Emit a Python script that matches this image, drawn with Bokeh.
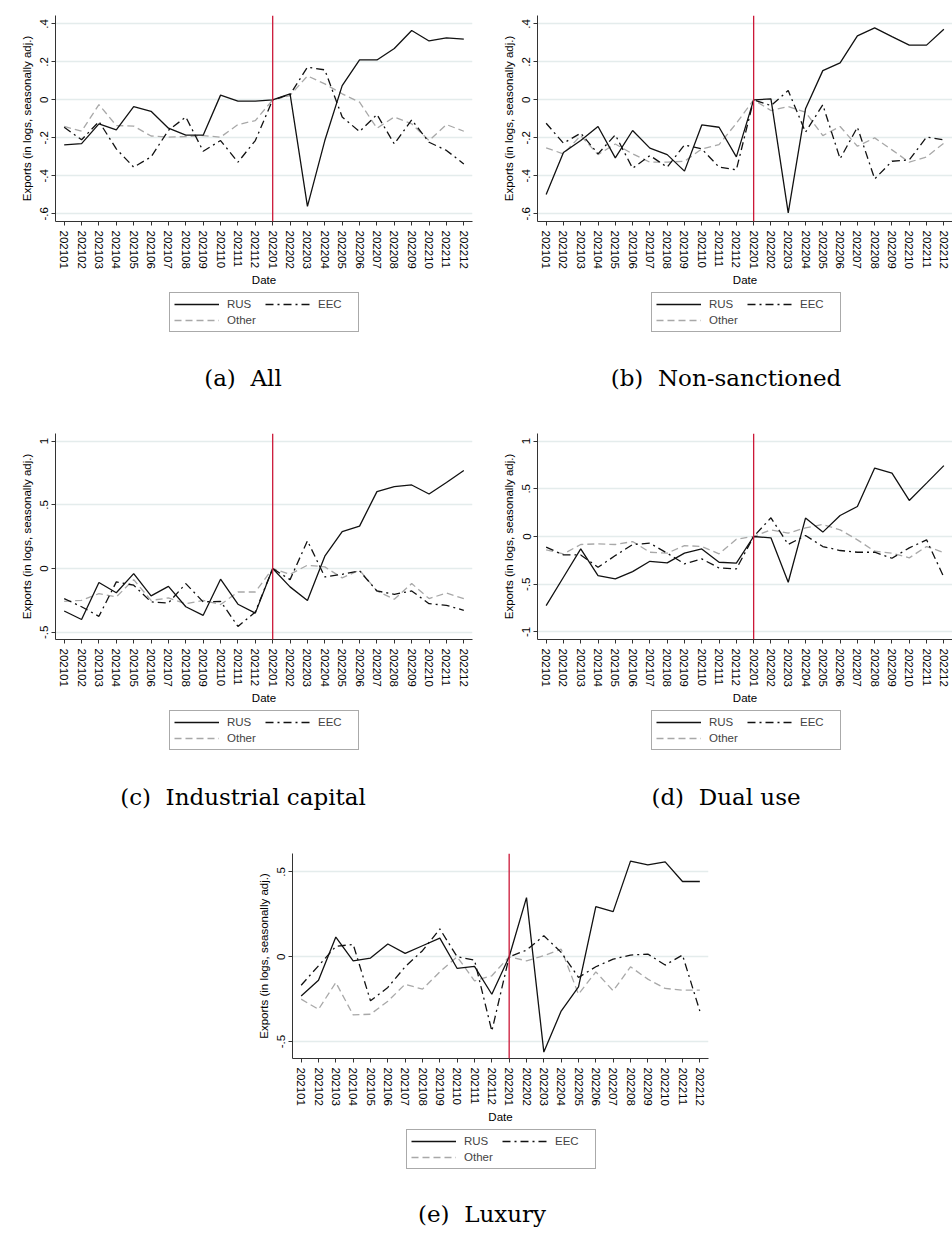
from bokeh.plotting import figure
from bokeh.models import Range1d, FixedTicker, Span, Legend, LegendItem, Spacer, Div
from bokeh.layouts import row, column
from bokeh.embed import file_html
from bokeh.resources import INLINE

# ---------------- data ----------------
dates = ["202101", "202102", "202103", "202104", "202105", "202106",
         "202107", "202108", "202109", "202110", "202111", "202112",
         "202201", "202202", "202203", "202204", "202205", "202206",
         "202207", "202208", "202209", "202210", "202211", "202212"]
event_date = "202201"
series_names = ["RUS", "EEC", "Other"]

all_rus = [-0.237, -0.230, -0.126, -0.158, -0.035, -0.060, -0.149, -0.186, -0.186, 0.025, -0.007, -0.007,
           0.000, 0.032, -0.560, -0.214, 0.075, 0.210, 0.210, 0.270, 0.365, 0.310, 0.326, 0.320]
all_eec = [-0.144, -0.210, -0.114, -0.258, -0.354, -0.300, -0.160, -0.090, -0.270, -0.214, -0.328, -0.214,
           0.000, 0.028, 0.172, 0.158, -0.090, -0.167, -0.077, -0.232, -0.105, -0.223, -0.266, -0.337]
all_oth = [-0.140, -0.165, -0.025, -0.135, -0.138, -0.190, -0.196, -0.193, -0.188, -0.196, -0.130, -0.109,
           0.000, 0.023, 0.126, 0.084, 0.032, -0.012, -0.149, -0.090, -0.126, -0.214, -0.130, -0.165]

ns_rus = [-0.498, -0.277, -0.214, -0.140, -0.305, -0.161, -0.254, -0.288, -0.375, -0.132, -0.144, -0.300,
          0.000, 0.005, -0.595, -0.047, 0.154, 0.195, 0.337, 0.379, 0.333, 0.288, 0.288, 0.372]
ns_eec = [-0.123, -0.228, -0.175, -0.284, -0.184, -0.360, -0.293, -0.354, -0.237, -0.258, -0.354, -0.368,
          0.000, -0.030, 0.049, -0.170, -0.026, -0.310, -0.144, -0.416, -0.323, -0.316, -0.196, -0.210]
ns_oth = [-0.253, -0.284, -0.188, -0.288, -0.232, -0.284, -0.328, -0.328, -0.323, -0.258, -0.235, -0.123,
          0.000, -0.056, -0.035, -0.065, -0.188, -0.140, -0.244, -0.200, -0.263, -0.328, -0.300, -0.228]

ic_rus = [-0.333, -0.400, -0.110, -0.190, -0.040, -0.215, -0.140, -0.300, -0.367, -0.084, -0.280, -0.350,
          0.000, -0.144, -0.250, 0.097, 0.289, 0.333, 0.604, 0.643, 0.656, 0.585, 0.675, 0.769]
ic_eec = [-0.236, -0.300, -0.375, -0.105, -0.131, -0.262, -0.270, -0.118, -0.262, -0.257, -0.454, -0.341,
          0.000, -0.087, 0.218, -0.066, -0.045, -0.018, -0.176, -0.202, -0.176, -0.276, -0.289, -0.328]
ic_oth = [-0.257, -0.250, -0.197, -0.223, -0.087, -0.250, -0.231, -0.276, -0.250, -0.283, -0.184, -0.184,
          0.000, -0.045, 0.026, 0.013, -0.073, -0.013, -0.176, -0.241, -0.118, -0.236, -0.192, -0.236]

du_rus = [-0.725, -0.427, -0.130, -0.410, -0.445, -0.368, -0.260, -0.277, -0.175, -0.130, -0.270, -0.280,
          0.000, -0.014, -0.480, 0.193, 0.046, 0.220, 0.315, 0.718, 0.665, 0.378, 0.560, 0.743]
du_eec = [-0.112, -0.193, -0.193, -0.322, -0.200, -0.084, -0.070, -0.175, -0.287, -0.235, -0.330, -0.340,
          0.000, 0.196, -0.084, 0.010, -0.105, -0.147, -0.165, -0.165, -0.228, -0.119, -0.035, -0.427]
du_oth = [-0.140, -0.182, -0.084, -0.077, -0.084, -0.053, -0.165, -0.175, -0.095, -0.105, -0.182, -0.028,
          0.000, 0.070, 0.035, 0.091, 0.126, 0.070, -0.035, -0.154, -0.175, -0.224, -0.105, -0.168]

lx_rus = [-0.231, -0.138, 0.116, -0.024, -0.008, 0.075, 0.020, 0.065, 0.110, -0.069, -0.057, -0.221,
          0.000, 0.349, -0.562, -0.320, -0.178, 0.296, 0.266, 0.564, 0.542, 0.560, 0.444, 0.444]
lx_eec = [-0.168, -0.053, 0.061, 0.073, -0.260, -0.181, -0.059, 0.036, 0.164, 0.000, -0.020, -0.438,
          0.000, 0.039, 0.124, 0.026, -0.122, -0.059, -0.014, 0.010, 0.016, -0.049, 0.010, -0.320]
lx_oth = [-0.250, -0.310, -0.152, -0.343, -0.339, -0.262, -0.162, -0.191, -0.089, 0.000, -0.142, -0.112,
          0.000, -0.024, 0.006, 0.045, -0.221, -0.089, -0.201, -0.059, -0.132, -0.187, -0.197, -0.197]

yticks_ab = [-0.6, -0.4, -0.2, 0, 0.2, 0.4]
ylabels_ab = ["-.6", "-.4", "-.2", "0", ".2", ".4"]
yticks_c = [-0.5, 0, 0.5, 1]
ylabels_c = ["-.5", "0", ".5", "1"]
yticks_d = [-1, -0.5, 0, 0.5, 1]
ylabels_d = ["-1", "-.5", "0", ".5", "1"]
yticks_e = [-0.5, 0, 0.5]
ylabels_e = ["-.5", "0", ".5"]

captions = ["(a)&nbsp; All", "(b)&nbsp; Non-sanctioned", "(c)&nbsp; Industrial capital",
            "(d)&nbsp; Dual use", "(e)&nbsp; Luxury"]
y_title = "Exports (in logs, seasonally adj.)"
x_title = "Date"

# ---------------- styling ----------------
SANS = "Liberation Sans"
FS = "11.5px"
BLACK = "#111111"
GRAY = "#a8a8a8"
RED = "#cc1838"
GRID = "#e4ecec"
RUS_STYLE = dict(line_color=BLACK, line_width=1.3)
EEC_STYLE = dict(line_color=BLACK, line_width=1.3, line_dash="8 4 2 4")
OTH_STYLE = dict(line_color=GRAY, line_width=1.3, line_dash="7 4")


def make_panel(rus, eec, oth, yr, yticks, ylabels, fw, fh, ml, mr, mt, mb):
    xs = list(range(len(dates)))
    p = figure(frame_width=fw, frame_height=fh,
               x_range=Range1d(-0.5, len(dates) - 0.5), y_range=Range1d(*yr),
               output_backend="svg", toolbar_location=None,
               min_border_left=ml, min_border_right=mr, min_border_top=mt, min_border_bottom=mb)
    p.outline_line_color = None
    p.background_fill_color = "white"
    p.border_fill_color = "white"
    p.xgrid.visible = False
    p.ygrid.grid_line_color = GRID
    p.ygrid.grid_line_width = 1.3

    p.xaxis.ticker = FixedTicker(ticks=xs)
    p.xaxis.major_label_overrides = {i: d for i, d in enumerate(dates)}
    p.xaxis.major_label_orientation = "vertical"
    p.yaxis.ticker = FixedTicker(ticks=yticks)
    p.yaxis.major_label_overrides = {t: l for t, l in zip(yticks, ylabels)}
    p.yaxis.major_label_orientation = "vertical"
    for ax in (p.xaxis[0], p.yaxis[0]):
        ax.major_label_text_font = SANS
        ax.major_label_text_font_size = FS
        ax.major_label_text_color = "black"
        ax.axis_label_text_font = SANS
        ax.axis_label_text_font_size = FS
        ax.axis_label_text_font_style = "normal"
        ax.axis_label_text_color = "black"
        ax.axis_line_color = "#333333"
        ax.major_tick_line_color = "#333333"
        ax.major_tick_out = 4
        ax.major_tick_in = 0
        ax.minor_tick_line_color = None
    p.xaxis.major_label_standoff = 5
    p.xaxis.axis_label_standoff = 2
    p.yaxis.major_label_standoff = 3
    p.yaxis.axis_label_standoff = 5
    p.xaxis.axis_label = x_title
    p.yaxis.axis_label = y_title

    p.line(xs, oth, **OTH_STYLE)
    p.line(xs, eec, **EEC_STYLE)
    p.line(xs, rus, **RUS_STYLE)

    p.add_layout(Span(location=dates.index(event_date), dimension="height",
                      line_color=RED, line_width=1.3))
    return p


def legend_fig(width, height, pos, rus, eec, oth):
    # legend-only canvas: the series are attached as legend renderers, with the
    # view ranges placed away from the data so that only the key is drawn
    xs = list(range(len(dates)))
    lf = figure(width=width, height=height, x_range=Range1d(100, 101), y_range=Range1d(100, 101),
                output_backend="svg", toolbar_location=None, min_border=0,
                x_axis_type=None, y_axis_type=None)
    lf.outline_line_color = None
    lf.background_fill_color = "white"
    lf.border_fill_color = "white"
    lf.grid.visible = False
    r_rus = lf.line(xs, rus, **RUS_STYLE)
    r_eec = lf.line(xs, eec, **EEC_STYLE)
    r_oth = lf.line(xs, oth, **OTH_STYLE)
    legend = Legend(items=[LegendItem(label=series_names[0], renderers=[r_rus]),
                           LegendItem(label=series_names[1], renderers=[r_eec]),
                           LegendItem(label=series_names[2], renderers=[r_oth])],
                    orientation="horizontal", ncols=2, location=pos,
                    label_text_font=SANS, label_text_font_size=FS,
                    glyph_width=45, glyph_height=14, label_height=14, label_width=36,
                    label_standoff=8, spacing=2, padding=4, margin=0,
                    border_line_color="#555555", border_line_width=1,
                    background_fill_color="white")
    lf.add_layout(legend)
    return lf


def caption_div(text, width, height, pad_top, pad_left):
    html = ('<div style="box-sizing:border-box;width:%dpx;padding-top:%dpx;padding-left:%dpx;'
            'text-align:center;font-family:\'DejaVu Serif\';font-size:23px;line-height:27px;'
            'color:#000;white-space:nowrap;">%s</div>'
            % (width, pad_top, pad_left, text))
    return Div(text=html, width=width, height=height, margin=0)


pa = make_panel(all_rus, all_eec, all_oth, (-0.64, 0.444), yticks_ab, ylabels_ab, 417, 206, 55, 8, 15, 70)
pb = make_panel(ns_rus, ns_eec, ns_oth, (-0.64, 0.444), yticks_ab, ylabels_ab, 415, 206, 57, 0, 15, 70)
pc = make_panel(ic_rus, ic_eec, ic_oth, (-0.557, 1.06), yticks_c, ylabels_c, 417, 206, 55, 8, 8, 70)
pd = make_panel(du_rus, du_eec, du_oth, (-1.08, 1.08), yticks_d, ylabels_d, 415, 206, 57, 0, 8, 70)
pe = make_panel(lx_rus, lx_eec, lx_oth, (-0.6, 0.609), yticks_e, ylabels_e, 416, 205, 52, 12, 8, 70)

la = legend_fig(480, 54, (169, 13), all_rus, all_eec, all_oth)
lb = legend_fig(472, 54, (171, 13), ns_rus, ns_eec, ns_oth)
lc = legend_fig(480, 56, (169, 15), ic_rus, ic_eec, ic_oth)
ld = legend_fig(472, 56, (171, 15), du_rus, du_eec, du_oth)
le = legend_fig(480, 55, (166, 14), lx_rus, lx_eec, lx_oth)

cap_a = caption_div(captions[0], 480, 80, 20, 6)
cap_b = caption_div(captions[1], 472, 80, 20, 20)
cap_c = caption_div(captions[2], 480, 80, 19, 6)
cap_d = caption_div(captions[3], 472, 80, 19, 20)
cap_e = caption_div(captions[4], 480, 48, 18, 4)

layout = column(
    row(pa, pb),
    row(la, lb),
    row(cap_a, cap_b),
    row(pc, pd),
    row(lc, ld),
    row(cap_c, cap_d),
    row(Spacer(width=240, height=10, margin=0), pe),
    row(Spacer(width=240, height=10, margin=0), le),
    row(Spacer(width=240, height=10, margin=0), cap_e),
)

open("out.html", "w").write(file_html(layout, INLINE))
